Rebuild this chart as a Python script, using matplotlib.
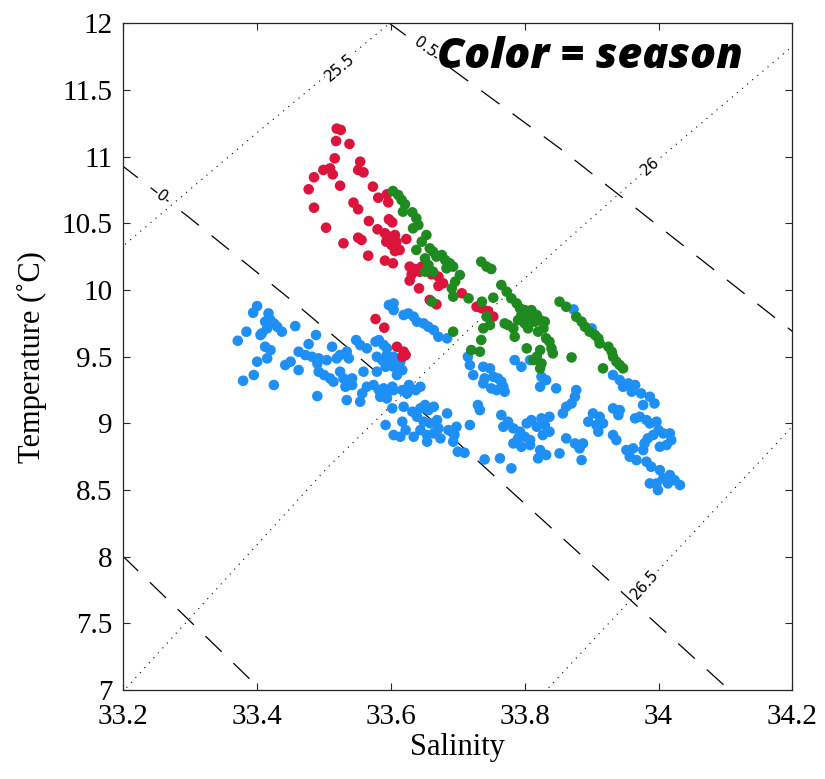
import matplotlib.pyplot as plt
import numpy as np

# salinity / temperature, one pair of lists per season
red_sal = [33.519, 33.525, 33.518, 33.538, 33.516, 33.554, 33.499, 33.509, 33.513, 33.551,
           33.559, 33.485, 33.524, 33.477, 33.573, 33.581, 33.594, 33.596, 33.544, 33.551,
           33.485, 33.567, 33.597, 33.602, 33.503, 33.580, 33.591, 33.598, 33.606, 33.593,
           33.601, 33.608, 33.623, 33.551, 33.556, 33.529, 33.613, 33.606, 33.566, 33.591,
           33.603, 33.628, 33.636, 33.646, 33.631, 33.643, 33.661, 33.671, 33.628, 33.642,
           33.671, 33.678, 33.658, 33.668, 33.706, 33.736, 33.745, 33.753, 33.577, 33.590,
           33.609, 33.619, 33.617, 33.622, 33.728]
red_temp = [11.21, 11.20, 11.117, 11.095, 10.987, 10.962, 10.90, 10.912, 10.867, 10.90,
            10.882, 10.845, 10.782, 10.755, 10.775, 10.692, 10.717, 10.657, 10.655, 10.605,
            10.617, 10.517, 10.53, 10.507, 10.467, 10.455, 10.425, 10.40, 10.412, 10.362,
            10.337, 10.362, 10.382, 10.392, 10.375, 10.35, 10.30, 10.292, 10.257, 10.22,
            10.20, 10.175, 10.157, 10.175, 10.117, 10.137, 10.117, 10.10, 10.07, 10.012,
            10.03, 10.05, 9.925, 9.892, 9.975, 9.862, 9.842, 9.80, 9.782, 9.717,
            9.574, 9.537, 9.499, 9.512, 9.874]

green_sal = [33.603, 33.611, 33.616, 33.621, 33.618, 33.632, 33.638, 33.641, 33.633, 33.653,
             33.646, 33.638, 33.658, 33.663, 33.668, 33.676, 33.681, 33.688, 33.683, 33.693,
             33.651, 33.656, 33.651, 33.663, 33.735, 33.743, 33.750, 33.703, 33.696, 33.691,
             33.693, 33.716, 33.736, 33.753, 33.743, 33.748, 33.738, 33.735, 33.661, 33.693,
             33.765, 33.773, 33.780, 33.788, 33.793, 33.800, 33.795, 33.803, 33.790, 33.800,
             33.805, 33.783, 33.785, 33.775, 33.770, 33.810, 33.818, 33.815, 33.823, 33.830,
             33.828, 33.820, 33.832, 33.837, 33.840, 33.842, 33.823, 33.818, 33.825, 33.823,
             33.813, 33.803, 33.720, 33.733,
             33.852, 33.862, 33.877, 33.885, 33.890, 33.897, 33.905, 33.910, 33.912, 33.925,
             33.930, 33.932, 33.937, 33.942, 33.947, 33.917, 33.870]
green_temp = [10.742, 10.712, 10.675, 10.642, 10.587, 10.582, 10.537, 10.487, 10.462, 10.412,
              10.362, 10.30, 10.312, 10.287, 10.25, 10.262, 10.225, 10.20, 10.162, 10.175,
              10.237, 10.187, 10.137, 10.137, 10.212, 10.175, 10.157, 10.112, 10.062, 10.012,
              9.95, 9.937, 9.912, 9.942, 9.80, 9.737, 9.712, 9.625, 9.912, 9.687,
              10.037, 9.987, 9.937, 9.899, 9.862, 9.849, 9.812, 9.799, 9.774, 9.749,
              9.712, 9.712, 9.649, 9.737, 9.749, 9.849, 9.812, 9.762, 9.774, 9.762,
              9.712, 9.687, 9.637, 9.612, 9.562, 9.524, 9.549, 9.499, 9.449, 9.412,
              9.474, 9.562, 9.549, 9.537,
              9.912, 9.874, 9.799, 9.762, 9.724, 9.687, 9.662, 9.637, 9.599, 9.574,
              9.537, 9.499, 9.462, 9.437, 9.412, 9.412, 9.494]

blue_sal = [33.400, 33.394, 33.417, 33.420, 33.412, 33.425, 33.430, 33.437, 33.415, 33.457,
            33.384, 33.371, 33.405, 33.407, 33.488, 33.412, 33.420, 33.415, 33.400, 33.477,
            33.462, 33.472, 33.482, 33.492, 33.490, 33.504, 33.512, 33.524, 33.534, 33.537,
            33.519, 33.442, 33.450, 33.462, 33.395, 33.379, 33.425, 33.492, 33.500, 33.509,
            33.514, 33.524, 33.529, 33.537, 33.542, 33.532, 33.542, 33.490, 33.534, 33.554,
            33.557, 33.548, 33.554, 33.564, 33.577, 33.582, 33.589, 33.594, 33.579, 33.587,
            33.594, 33.604, 33.599, 33.592, 33.604, 33.614, 33.617, 33.559, 33.579, 33.609,
            33.564, 33.574, 33.582, 33.589, 33.594, 33.602, 33.584, 33.594, 33.604, 33.627,
            33.637, 33.644, 33.624, 33.617, 33.597, 33.604, 33.604, 33.619, 33.626, 33.634,
            33.639, 33.649, 33.656, 33.664, 33.671, 33.684, 33.602, 33.592, 33.604, 33.619,
            33.617, 33.622, 33.632, 33.639, 33.644, 33.651, 33.656, 33.664, 33.649, 33.659,
            33.669, 33.644, 33.654, 33.664, 33.671, 33.674, 33.654, 33.634, 33.614, 33.684,
            33.686,
            33.698, 33.695, 33.693, 33.700, 33.710, 33.718, 33.715, 33.718, 33.723, 33.738,
            33.748, 33.740, 33.738, 33.753, 33.760, 33.765, 33.768, 33.758, 33.750, 33.770,
            33.785, 33.795, 33.808, 33.825, 33.832, 33.823, 33.847, 33.877, 33.875, 33.870,
            33.862, 33.857, 33.730, 33.733, 33.765, 33.775, 33.768, 33.783, 33.793, 33.803,
            33.810, 33.818, 33.825, 33.837, 33.830, 33.837, 33.827, 33.808, 33.800, 33.790,
            33.783, 33.795, 33.808, 33.823, 33.820, 33.832, 33.852, 33.862, 33.875, 33.882,
            33.887, 33.885, 33.780, 33.763, 33.740, 33.873, 33.900,
            33.932, 33.942, 33.947, 33.955, 33.965, 33.960, 33.974, 33.987, 33.994, 33.977,
            33.932, 33.942, 33.940, 33.902, 33.912, 33.895, 33.907, 33.917, 33.910, 33.932,
            33.937, 33.965, 33.972, 33.982, 33.987, 33.997, 34.000, 33.992, 34.007, 34.017,
            34.019, 34.012, 34.002, 33.984, 33.979, 33.977, 33.962, 33.952, 33.957, 33.967,
            33.982, 33.989, 34.002, 34.007, 34.017, 34.024, 34.032, 34.014, 33.997, 33.987,
            33.999]
blue_temp = [9.879, 9.829, 9.824, 9.774, 9.762, 9.749, 9.724, 9.687, 9.712, 9.729,
             9.687, 9.619, 9.662, 9.674, 9.662, 9.574, 9.549, 9.487, 9.462, 9.594,
             9.537, 9.512, 9.499, 9.487, 9.449, 9.474, 9.574, 9.512, 9.537, 9.487,
             9.487, 9.437, 9.462, 9.399, 9.362, 9.319, 9.287, 9.387, 9.362, 9.337,
             9.312, 9.387, 9.337, 9.324, 9.287, 9.274, 9.337, 9.204, 9.174, 9.162,
             9.224, 9.624, 9.587, 9.562, 9.612, 9.624, 9.587, 9.562, 9.499, 9.474,
             9.512, 9.499, 9.462, 9.424, 9.424, 9.462, 9.399, 9.387, 9.387, 9.362,
             9.274, 9.287, 9.249, 9.262, 9.224, 9.274, 9.199, 9.187, 9.249, 9.287,
             9.249, 9.274, 9.224, 9.249, 9.887, 9.899, 9.849, 9.812, 9.824, 9.799,
             9.762, 9.749, 9.724, 9.699, 9.649, 9.637, 9.112, 8.987, 8.912, 9.124,
             9.012, 8.949, 9.087, 9.049, 9.112, 9.137, 9.099, 9.124, 9.012, 8.999,
             9.024, 8.949, 8.912, 8.924, 8.962, 8.887, 8.862, 8.899, 8.899, 9.074,
             8.949,
             8.974, 8.912, 8.862, 8.787, 8.779, 8.987, 9.499, 9.437, 9.362, 9.424,
             9.412, 9.337, 9.299, 9.349, 9.337, 9.312, 9.274, 9.249, 9.262, 9.237,
             9.474, 9.424, 9.474, 9.349, 9.324, 9.274, 9.262, 9.249, 9.199, 9.149,
             9.124, 9.074, 9.137, 9.099, 9.062, 9.012, 8.974, 8.962, 8.937, 8.999,
             9.024, 8.974, 9.037, 9.049, 8.987, 8.937, 8.912, 8.874, 8.899, 8.887,
             8.849, 8.824, 8.837, 8.799, 8.737, 8.762, 8.774, 8.887, 8.849, 8.812,
             8.849, 8.724, 8.662, 8.737, 8.729, 9.854, 9.712,
             9.362, 9.324, 9.274, 9.299, 9.287, 9.237, 9.224, 9.199, 9.149, 9.137,
             9.112, 9.099, 9.062, 9.074, 9.049, 9.012, 8.987, 8.999, 8.937, 8.912,
             8.874, 9.037, 9.049, 9.024, 8.999, 9.012, 8.949, 8.912, 8.924, 8.924,
             8.874, 8.837, 8.824, 8.887, 8.849, 8.799, 8.812, 8.799, 8.749, 8.724,
             8.712, 8.674, 8.649, 8.587, 8.612, 8.574, 8.537, 8.549, 8.549, 8.549,
             8.499]

# isopycnals (sigma-theta)
sig255_sal = [33.195, 33.40, 33.598]
sig255_temp = [10.31, 11.18, 12.0]
sig26_sal = [33.198, 33.504, 33.713, 33.853, 33.987, 34.21]
sig26_temp = [6.98, 8.662, 9.687, 10.33, 10.925, 11.87]
sig265_sal = [33.829, 34.21]
sig265_temp = [6.98, 9.03]

# spiciness lines
spm05_sal = [33.198, 33.41]
spm05_temp = [8.01, 6.98]
sp0_sal = [33.195, 33.297, 33.374, 33.457, 33.572, 33.704, 34.11]
sp0_temp = [10.945, 10.549, 10.237, 9.899, 9.411, 8.836, 6.98]
sp05_sal = [33.595, 33.853, 34.21]
sp05_temp = [12.01, 11.06, 9.65]

xticks = [33.2, 33.4, 33.6, 33.8, 34, 34.2]
xticklabels = ['33.2', '33.4', '33.6', '33.8', '34', '34.2']
yticks = [7, 7.5, 8, 8.5, 9, 9.5, 10, 10.5, 11, 11.5, 12]
yticklabels = ['7', '7.5', '8', '8.5', '9', '9.5', '10', '10.5', '11', '11.5', '12']

serif = ['Liberation Serif', 'DejaVu Serif']

fig = plt.figure(figsize=(8.25, 7.79), dpi=100)
ax = fig.add_axes([0.1495, 0.1143, 0.8109, 0.8558])

dotted = (0, (1, 5))
dashed = (0, (18, 13))
for s, t in [(sig255_sal, sig255_temp), (sig26_sal, sig26_temp), (sig265_sal, sig265_temp)]:
    ax.plot(s, t, color='k', lw=0.8, linestyle=dotted, zorder=1)
for s, t in [(spm05_sal, spm05_temp), (sp0_sal, sp0_temp), (sp05_sal, sp05_temp)]:
    ax.plot(s, t, color='k', lw=0.9, linestyle=dashed, zorder=1)

lab = dict(fontsize=11, family='DejaVu Sans', ha='center', va='center', zorder=2,
           bbox=dict(facecolor='white', edgecolor='none', pad=0.5))
ax.text(33.524, 11.67, '25.5', rotation=40, **lab)
ax.text(33.987, 10.925, '26', rotation=41, **lab)
ax.text(33.98, 7.79, '26.5', rotation=48, **lab)
ax.text(33.257, 10.70, '0', rotation=-38, **lab)
ax.text(33.651, 11.82, '0.5', rotation=-36, **lab)

ax.scatter(blue_sal, blue_temp, s=58, color='#1e8ff5', edgecolors='none', zorder=3)
ax.scatter(red_sal, red_temp, s=58, color='#dc143c', edgecolors='none', zorder=3)
ax.scatter(green_sal, green_temp, s=58, color='#1f8a1f', edgecolors='none', zorder=3)

ax.text(0.926, 0.9325, 'Color = season', transform=ax.transAxes, ha='right', va='baseline',
        fontsize=31, fontweight=800, style='italic', family=['Open Sans', 'DejaVu Sans'],
        zorder=4)

ax.set_xlim(33.2, 34.2)
ax.set_ylim(7, 12)
ax.set_xticks(xticks)
ax.set_xticklabels(xticklabels, family=serif, fontsize=21)
ax.set_yticks(yticks)
ax.set_yticklabels(yticklabels, family=serif, fontsize=21)
ax.tick_params(direction='in', length=5, width=0.8, top=True, right=True, pad=8,
               color='#262626')
ax.tick_params(axis='x', pad=10)
for sp in ax.spines.values():
    sp.set_linewidth(0.9)
    sp.set_color('#262626')

ax.set_xlabel('Salinity', family=serif, fontsize=22, labelpad=2)
ax.set_ylabel('Temperature (\u02daC)', family=serif, fontsize=22, labelpad=10)

fig.savefig('out.png', dpi=100)
